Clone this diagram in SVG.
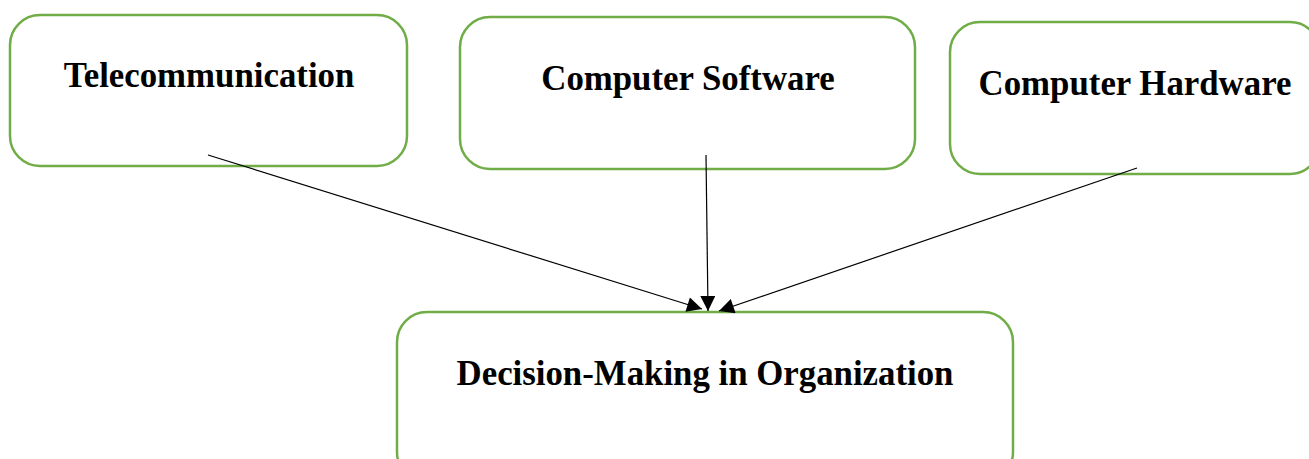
<svg xmlns="http://www.w3.org/2000/svg" width="1309" height="459" viewBox="0 0 1309 459">
<style>
.box{fill:#fff;stroke:#70AD47;stroke-width:2.5}
.lbl{font-family:"Liberation Serif","Times New Roman",serif;font-weight:bold;font-size:34.8px;fill:#000;text-anchor:middle}
.conn{stroke:#000;stroke-width:1.2;fill:none;marker-end:url(#ah)}
</style>
<defs>
<marker id="ah" viewBox="0 0 10 10" refX="10" refY="5" markerWidth="18" markerHeight="15" markerUnits="userSpaceOnUse" orient="auto">
<path d="M0,0 L10,5 L0,10 z" fill="#000"/>
</marker>
</defs>
<rect width="1309" height="459" fill="#fff"/>
<g id="telecom"><rect class="box" x="10" y="15" width="397" height="151" rx="30"/><text class="lbl" x="209" y="87">Telecommunication</text></g>
<g id="software"><rect class="box" x="460" y="17" width="455" height="152" rx="30"/><text class="lbl" x="688" y="90">Computer Software</text></g>
<g id="hardware"><rect class="box" x="950" y="22" width="370" height="152" rx="30"/><text class="lbl" x="1135" y="95">Computer Hardware</text></g>
<g id="decision"><rect class="box" x="397" y="312" width="616" height="170" rx="30"/><text class="lbl" x="705" y="385">Decision-Making in Organization</text></g>
<g id="connectors">
<line class="conn" x1="208" y1="155" x2="702" y2="309"/>
<line class="conn" x1="706" y1="155" x2="708" y2="311"/>
<line class="conn" x1="1137" y1="168" x2="719" y2="311"/>
</g>
</svg>
